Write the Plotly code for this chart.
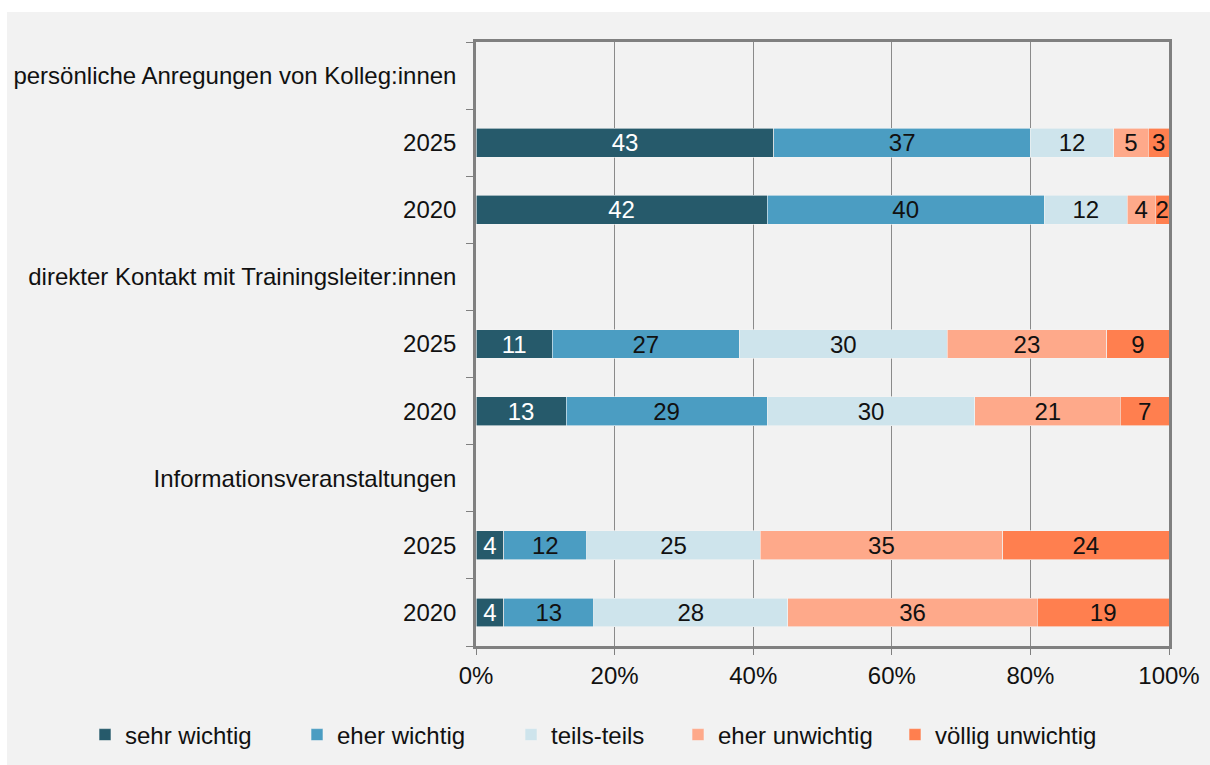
import plotly.graph_objects as go

# Rows from top to bottom: a group heading followed by its survey years
row_ids = ["kolleg", "kolleg_2025", "kolleg_2020",
           "kontakt", "kontakt_2025", "kontakt_2020",
           "info", "info_2025", "info_2020"]
row_labels = ["persönliche Anregungen von Kolleg:innen", "2025", "2020",
              "direkter Kontakt mit Trainingsleiter:innen", "2025", "2020",
              "Informationsveranstaltungen", "2025", "2020"]

series_names = ["sehr wichtig", "eher wichtig", "teils-teils",
                "eher unwichtig", "völlig unwichtig"]

# Shares in percent per row (heading rows carry no bar)
sehr_wichtig      = [None, 43, 42, None, 11, 13, None, 4, 4]
eher_wichtig      = [None, 37, 40, None, 27, 29, None, 12, 13]
teils_teils       = [None, 12, 12, None, 30, 30, None, 25, 28]
eher_unwichtig    = [None, 5, 4, None, 23, 21, None, 35, 36]
voellig_unwichtig = [None, 3, 2, None, 9, 7, None, 24, 19]

series_values = [sehr_wichtig, eher_wichtig, teils_teils,
                 eher_unwichtig, voellig_unwichtig]
series_colors = ["#265a6b", "#4b9dc2", "#cee4ec", "#fea98a", "#ff7f4f"]
label_colors = ["#ffffff", "#111111", "#111111", "#111111", "#111111"]

x_ticks = [0, 20, 40, 60, 80, 100]

FONT = "Liberation Sans, Arial, sans-serif"
FS = 24
BG = "#f2f2f2"

# Figure geometry (pixels)
W, H = 1210, 765
L, R, T, B = 476, 41, 42, 119
pw, ph = W - L - R, H - T - B


def px_x(p):
    return (p - L) / pw


def px_y(p):
    return (H - B - p) / ph


# left edge of each legend swatch, one legend box per series
legend_left = [99, 311, 525, 692, 909]
legend_keys = ["legend", "legend2", "legend3", "legend4", "legend5"]

fig = go.Figure()
for name, vals, col, tcol, lk in zip(series_names, series_values,
                                     series_colors, label_colors, legend_keys):
    fig.add_trace(go.Bar(
        name=name,
        y=row_ids,
        x=vals,
        orientation="h",
        marker=dict(color=col, line=dict(color="#f4f4f4", width=0.6)),
        text=[("" if v is None else str(v)) for v in vals],
        textposition="inside",
        insidetextanchor="middle",
        textangle=0,
        constraintext="none",
        textfont=dict(family=FONT, size=FS, color=tcol),
        cliponaxis=False,
        hoverinfo="skip",
        legend=lk,
    ))

# light grey panel with a thin white rim on the top and left
fig.add_shape(type="rect", xref="paper", yref="paper",
              x0=px_x(7), x1=px_x(W + 5), y0=px_y(H + 5), y1=px_y(12),
              fillcolor=BG, line=dict(width=0), layer="below")

legend_style = dict(
    orientation="h",
    xanchor="left",
    y=px_y(735), yanchor="middle",
    bgcolor="rgba(0,0,0,0)",
    borderwidth=0,
    font=dict(family=FONT, size=FS, color="#111111"),
    itemclick=False,
)
legends = {lk: dict(legend_style, x=px_x(xl - 14))
           for lk, xl in zip(legend_keys, legend_left)}

fig.update_layout(
    width=W, height=H,
    margin=dict(l=L, r=R, t=T, b=B, pad=0, autoexpand=False),
    barmode="stack",
    bargap=0.57,
    paper_bgcolor="#ffffff",
    plot_bgcolor=BG,
    font=dict(family=FONT, size=FS, color="#111111"),
    showlegend=True,
    **legends,
    xaxis=dict(
        range=[0, 100],
        tickvals=x_ticks,
        ticktext=[f"{v}%" for v in x_ticks],
        showgrid=True, gridcolor="#8a8a8a", gridwidth=1,
        zeroline=False,
        showline=True, linecolor="#808080", linewidth=2.5, mirror=True,
        ticks="outside", ticklen=6, tickcolor="#808080", tickwidth=1,
        tickfont=dict(family=FONT, size=FS, color="#111111"),
        automargin=False,
        fixedrange=True,
    ),
    yaxis=dict(
        type="category",
        categoryorder="array",
        categoryarray=row_ids,
        autorange="reversed",
        tickvals=row_ids,
        ticktext=row_labels,
        tickson="boundaries",
        showgrid=False,
        showline=True, linecolor="#808080", linewidth=2.5, mirror=True,
        ticks="outside", ticklen=7, tickcolor="#808080", tickwidth=1,
        ticklabelstandoff=12,
        tickfont=dict(family=FONT, size=FS, color="#111111"),
        automargin=False,
        fixedrange=True,
    ),
)

fig.write_html("out.html")
